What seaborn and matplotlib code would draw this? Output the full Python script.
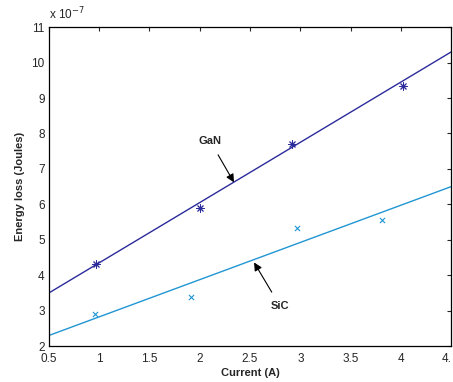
import matplotlib
matplotlib.use("Agg")
import matplotlib.pyplot as plt
import seaborn as sns
import pandas as pd

# Data (energy loss in units of 1e-7 J)
gan_current = [0.97, 2.0, 2.92, 4.02]
gan_energy = [4.33, 5.89, 7.69, 9.33]
sic_current = [0.96, 1.91, 2.97, 3.81]
sic_energy = [2.90, 3.39, 5.33, 5.57]
fit_current = [0.5, 4.5]
gan_fit = [3.50, 10.30]
sic_fit = [2.30, 6.50]

x_ticks = [0.5, 1, 1.5, 2, 2.5, 3, 3.5, 4, 4.5]
x_ticklabels = ["0.5", "1", "1.5", "2", "2.5", "3", "3.5", "4", "4."]
y_ticks = [2, 3, 4, 5, 6, 7, 8, 9, 10, 11]

gan_color = "#2b2b9c"
sic_color = "#2196d3"

sns.set_style("white")
plt.rcParams["font.family"] = ["Liberation Sans", "DejaVu Sans"]

fig = plt.figure(figsize=(4.53, 3.82), dpi=100)
ax = fig.add_axes([0.108, 0.094, 0.888, 0.835])

fit_df = pd.DataFrame({"I": fit_current, "GaN": gan_fit, "SiC": sic_fit})
sns.lineplot(data=fit_df, x="I", y="GaN", ax=ax, color=gan_color, linewidth=1.0)
sns.lineplot(data=fit_df, x="I", y="SiC", ax=ax, color=sic_color, linewidth=1.0)

gan_df = pd.DataFrame({"I": gan_current, "E": gan_energy})
sic_df = pd.DataFrame({"I": sic_current, "E": sic_energy})
sns.scatterplot(data=gan_df, x="I", y="E", ax=ax, marker=(8, 2, 0), s=28,
                color=gan_color, linewidth=0.7)
sns.scatterplot(data=sic_df, x="I", y="E", ax=ax, marker="x", s=14,
                color=sic_color, linewidth=0.8)

ax.set_xlim(0.5, 4.5)
ax.set_ylim(2, 11)
ax.set_xticks(x_ticks)
ax.set_xticklabels(x_ticklabels)
ax.set_yticks(y_ticks)
ax.tick_params(direction="in", length=3, width=0.8, top=True, right=True,
               labelsize=8.5, pad=3)
ax.tick_params(axis="x", pad=5)
ax.get_xticklabels()[-1].set_horizontalalignment("right")
for s in ax.spines.values():
    s.set_visible(True)
    s.set_color("black")
    s.set_linewidth(0.9)

ax.set_xlabel("Current (A)", fontsize=8, fontweight="bold", labelpad=2)
ax.set_ylabel("Energy loss (Joules)", fontsize=8, fontweight="bold", labelpad=5)

ax.text(0.0, 1.015, r"x 10$^{-7}$", transform=ax.transAxes, fontsize=8.5,
        ha="left", va="bottom")

ax.annotate("GaN", xy=(2.34, 6.62), xytext=(2.1, 7.8),
            fontsize=8, fontweight="bold", ha="center", va="center",
            arrowprops=dict(arrowstyle="-|>", color="black", lw=0.8,
                            mutation_scale=12, shrinkA=5, shrinkB=0))
ax.annotate("SiC", xy=(2.54, 4.36), xytext=(2.8, 3.12),
            fontsize=8, fontweight="bold", ha="center", va="center",
            arrowprops=dict(arrowstyle="-|>", color="black", lw=0.8,
                            mutation_scale=12, shrinkA=5, shrinkB=0))

fig.savefig("out.png", dpi=100)
